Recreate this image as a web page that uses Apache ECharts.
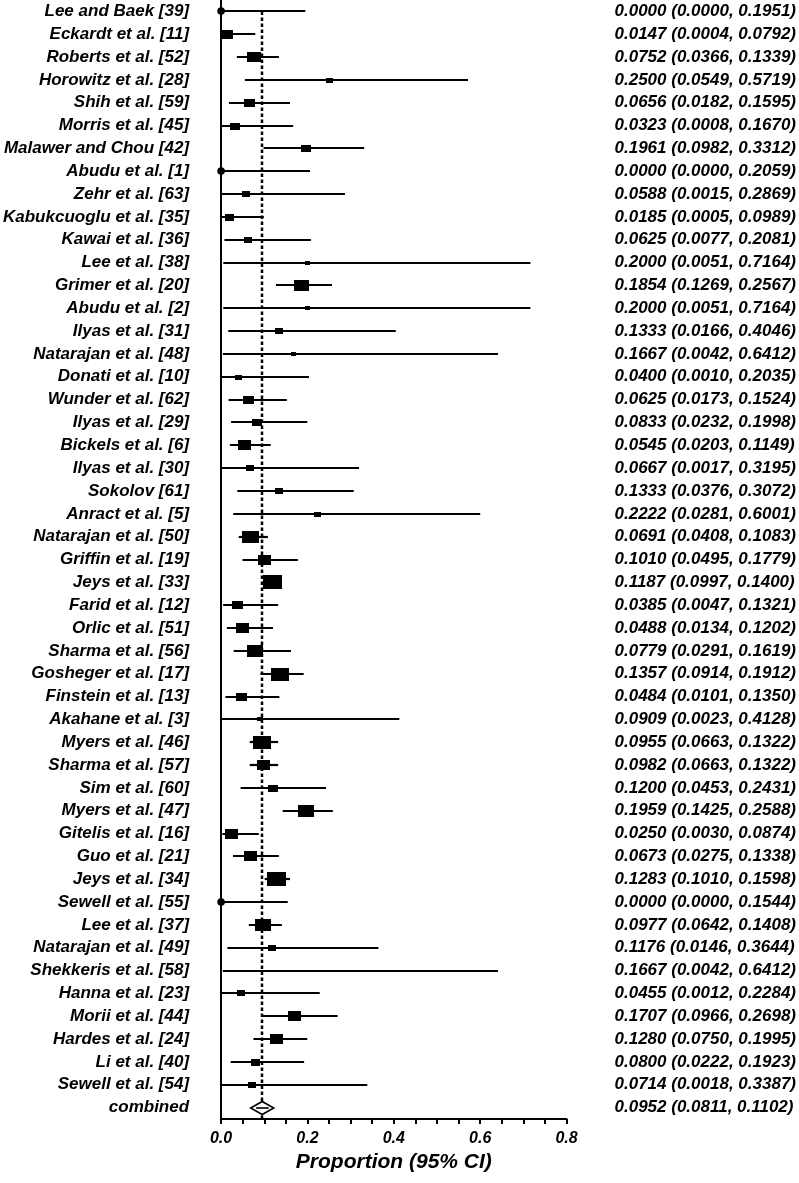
<!DOCTYPE html>
<html>
<head>
<meta charset="utf-8">
<script src="https://cdn.jsdelivr.net/npm/echarts/dist/echarts.min.js"></script>
<style>
html,body{margin:0;padding:0;background:#fff;}
#chart{width:799px;height:1183px;}
</style>
</head>
<body>
<div id="chart"></div>
<script>
// ---------- data ----------
const studies = [
  'Lee and Baek [39]','Eckardt et al. [11]','Roberts et al. [52]','Horowitz et al. [28]',
  'Shih et al. [59]','Morris et al. [45]','Malawer and Chou [42]','Abudu et al. [1]',
  'Zehr et al. [63]','Kabukcuoglu et al. [35]','Kawai et al. [36]','Lee et al. [38]',
  'Grimer et al. [20]','Abudu et al. [2]','Ilyas et al. [31]','Natarajan et al. [48]',
  'Donati et al. [10]','Wunder et al. [62]','Ilyas et al. [29]','Bickels et al. [6]',
  'Ilyas et al. [30]','Sokolov [61]','Anract et al. [5]','Natarajan et al. [50]',
  'Griffin et al. [19]','Jeys et al. [33]','Farid et al. [12]','Orlic et al. [51]',
  'Sharma et al. [56]','Gosheger et al. [17]','Finstein et al. [13]','Akahane et al. [3]',
  'Myers et al. [46]','Sharma et al. [57]','Sim et al. [60]','Myers et al. [47]',
  'Gitelis et al. [16]','Guo et al. [21]','Jeys et al. [34]','Sewell et al. [55]',
  'Lee et al. [37]','Natarajan et al. [49]','Shekkeris et al. [58]','Hanna et al. [23]',
  'Morii et al. [44]','Hardes et al. [24]','Li et al. [40]','Sewell et al. [54]'
];
const estimates = [
  0.0000,0.0147,0.0752,0.2500,0.0656,0.0323,0.1961,0.0000,
  0.0588,0.0185,0.0625,0.2000,0.1854,0.2000,0.1333,0.1667,
  0.0400,0.0625,0.0833,0.0545,0.0667,0.1333,0.2222,0.0691,
  0.1010,0.1187,0.0385,0.0488,0.0779,0.1357,0.0484,0.0909,
  0.0955,0.0982,0.1200,0.1959,0.0250,0.0673,0.1283,0.0000,
  0.0977,0.1176,0.1667,0.0455,0.1707,0.1280,0.0800,0.0714
];
const lower = [
  0.0000,0.0004,0.0366,0.0549,0.0182,0.0008,0.0982,0.0000,
  0.0015,0.0005,0.0077,0.0051,0.1269,0.0051,0.0166,0.0042,
  0.0010,0.0173,0.0232,0.0203,0.0017,0.0376,0.0281,0.0408,
  0.0495,0.0997,0.0047,0.0134,0.0291,0.0914,0.0101,0.0023,
  0.0663,0.0663,0.0453,0.1425,0.0030,0.0275,0.1010,0.0000,
  0.0642,0.0146,0.0042,0.0012,0.0966,0.0750,0.0222,0.0018
];
const upper = [
  0.1951,0.0792,0.1339,0.5719,0.1595,0.1670,0.3312,0.2059,
  0.2869,0.0989,0.2081,0.7164,0.2567,0.7164,0.4046,0.6412,
  0.2035,0.1524,0.1998,0.1149,0.3195,0.3072,0.6001,0.1083,
  0.1779,0.1400,0.1321,0.1202,0.1619,0.1912,0.1350,0.4128,
  0.1322,0.1322,0.2431,0.2588,0.0874,0.1338,0.1598,0.1544,
  0.1408,0.3644,0.6412,0.2284,0.2698,0.1995,0.1923,0.3387
];
// relative study weights (largest = 1)
const weights = [
  0.37,0.63,0.74,0.37,0.58,0.53,0.53,0.37,
  0.42,0.47,0.42,0.26,0.79,0.26,0.42,0.26,
  0.37,0.58,0.53,0.68,0.42,0.42,0.37,0.89,
  0.68,1.00,0.58,0.68,0.84,0.95,0.58,0.32,
  0.95,0.68,0.53,0.84,0.68,0.68,1.00,0.37,
  0.84,0.42,0.16,0.42,0.68,0.68,0.47,0.42
];
const pooledName = 'combined';
const pooled = [0.0952, 0.0811, 0.1102];
const xTickLabels = ['0.0','0.2','0.4','0.6','0.8'];
const axisTitle = 'Proportion (95% CI)';

// ---------- build ----------
const names = studies.concat([pooledName]);
const fmt = v => v.toFixed(4);
const rightLabels = estimates.map((e, i) => fmt(e) + ' (' + fmt(lower[i]) + ', ' + fmt(upper[i]) + ')')
  .concat([fmt(pooled[0]) + ' (' + fmt(pooled[1]) + ', ' + fmt(pooled[2]) + ')']);

const seriesData = estimates.map((e, i) => [e, lower[i], upper[i], i, weights[i], 0]);
seriesData.push([pooled[0], pooled[1], pooled[2], studies.length, 1, 1]);

const FONT = "'Liberation Sans', Arial, Helvetica, sans-serif";
const BOX_W = 19, BOX_H = 14;

function renderItem(params, api) {
  const est = api.value(0), lo = api.value(1), hi = api.value(2);
  const row = api.value(3), w = api.value(4), isPooled = api.value(5);
  const pE = api.coord([est, row]);
  const pL = api.coord([lo, row]);
  const pH = api.coord([hi, row]);
  const y = Math.round(pE[1]);
  const children = [];
  if (isPooled) {
    const cs = params.coordSys;
    const top = api.coord([est, 0])[1];
    const xd = Math.round(pE[0]);
    children.push({
      type: 'line',
      shape: { x1: xd, y1: top, x2: xd, y2: cs.y + cs.height },
      style: { stroke: '#000', lineWidth: 2.5, lineDash: [3.5, 2.5] }
    });
    const dx = 11.5, dy = 6.5;
    children.push({
      type: 'polygon',
      shape: { points: [[pE[0] - dx, y], [pE[0], y - dy], [pE[0] + dx, y], [pE[0], y + dy]] },
      style: { fill: '#fff', stroke: '#000', lineWidth: 1.6 }
    });
    children.push({
      type: 'line',
      shape: { x1: pL[0], y1: y, x2: pH[0], y2: y },
      style: { stroke: '#000', lineWidth: 1.6 }
    });
  } else {
    children.push({
      type: 'line',
      shape: { x1: pL[0], y1: y, x2: pH[0], y2: y },
      style: { stroke: '#000', lineWidth: 2.2 }
    });
    if (est === 0) {
      children.push({
        type: 'circle',
        shape: { cx: pE[0], cy: y, r: 3.8 },
        style: { fill: '#000' }
      });
    } else {
      const bw = Math.max(3, Math.round(BOX_W * w)), bh = Math.max(2, Math.round(BOX_H * w));
      children.push({
        type: 'rect',
        shape: { x: Math.round(pE[0] - bw / 2), y: Math.round(y - bh / 2), width: bw, height: bh },
        style: { fill: '#000' }
      });
    }
  }
  return { type: 'group', children: children };
}

const labelStyle = { fontFamily: FONT, fontWeight: 'bold', fontStyle: 'italic', color: '#000' };

const option = {
  animation: false,
  backgroundColor: '#fff',
  grid: { left: 219, right: 232, top: -2.4, bottom: 64, containLabel: false },
  xAxis: {
    type: 'value', min: 0, max: 0.8, interval: 0.05,
    axisLine: { show: true, lineStyle: { color: '#000', width: 2 } },
    axisTick: { show: true, length: 5, lineStyle: { color: '#000', width: 2 } },
    splitLine: { show: false },
    axisLabel: Object.assign({
      fontSize: 16, margin: 12,
      formatter: function (v) {
        const k = v / 0.2;
        const r = Math.round(k);
        return Math.abs(k - r) < 1e-6 ? xTickLabels[r] : '';
      }
    }, labelStyle),
    name: axisTitle, nameLocation: 'middle', nameGap: 28,
    nameTextStyle: Object.assign({ fontSize: 21 }, labelStyle)
  },
  yAxis: [
    {
      type: 'category', data: names, inverse: true, position: 'left',
      axisLine: { show: true, onZero: false, lineStyle: { color: '#000', width: 2 } },
      axisTick: { show: false },
      splitLine: { show: false },
      axisLabel: Object.assign({ interval: 0, margin: 32, fontSize: 17 }, labelStyle)
    },
    {
      type: 'category', data: rightLabels, inverse: true, position: 'right',
      axisLine: { show: false }, axisTick: { show: false }, splitLine: { show: false },
      axisLabel: Object.assign({ interval: 0, margin: 48, fontSize: 17, align: 'left' }, labelStyle)
    }
  ],
  series: [{
    type: 'custom',
    renderItem: renderItem,
    encode: { x: [0, 1, 2], y: 3 },
    data: seriesData,
    clip: false,
    silent: true
  }]
};

const chart = echarts.init(document.getElementById('chart'), null, { renderer: 'canvas' });
chart.setOption(option);
</script>
</body>
</html>
